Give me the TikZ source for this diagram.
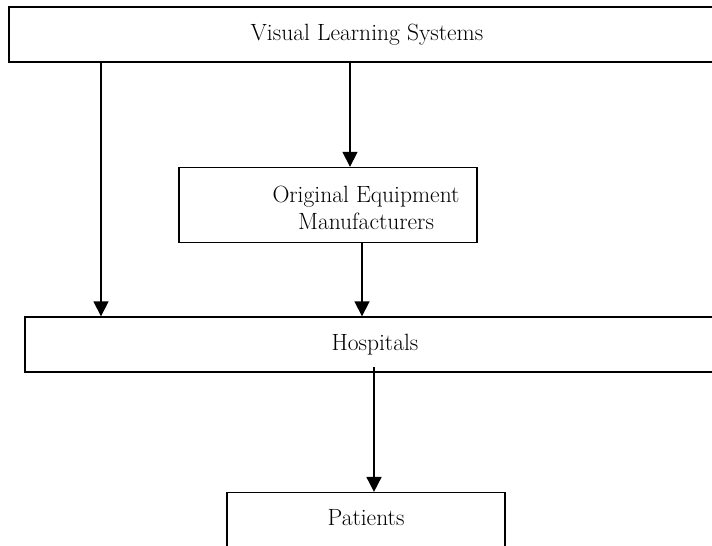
\documentclass[tikz,border=0pt]{standalone}
\usetikzlibrary{arrows.meta}
\begin{document}
\begin{tikzpicture}[x=1pt,y=-1pt,
  box/.style={draw, line width=1.4pt, fill=white, inner sep=0pt,
    font=\fontsize{23.5}{27}\selectfont, align=center},
  arr/.style={-{Triangle[width=15pt,length=15pt]}, line width=1.7pt},
  lbl/.style={font=\fontsize{23.5}{27}\selectfont, align=center, inner sep=0pt}]
\useasboundingbox (0,0) rectangle (712,546);
\begin{scope}
\clip (0,0) rectangle (712,546);
% top box
\node[box, line width=2pt, minimum width=716pt, minimum height=55pt] (vls) at (367,34.5) {Visual Learning Systems};
% OEM
\node[box, minimum width=298pt, minimum height=75pt] (oem) at (328,205) {};
\node[lbl] (oemt) at (366,208) {Original Equipment\\Manufacturers};
% Hospitals
\node[box, minimum width=700pt, minimum height=55pt] (hos) at (375,344.5) {Hospitals};
% Patients
\node[box, minimum width=278pt, minimum height=54pt] (pat) at (366,519.6) {};
\node[lbl] (patt) at (366,518) {Patients};
% arrows
\coordinate (a1s) at (101,62);
\coordinate (a2s) at (350,62);
\coordinate (a3s) at (362,242);
\coordinate (a4s) at (374,367);
\draw[arr] (a1s) -- (a1s |- hos.north);
\draw[arr] (a2s) -- (a2s |- oem.north);
\draw[arr] (a3s) -- (a3s |- hos.north);
\draw[arr] (a4s) -- (a4s |- pat.north);
\end{scope}
\end{tikzpicture}
\end{document}
